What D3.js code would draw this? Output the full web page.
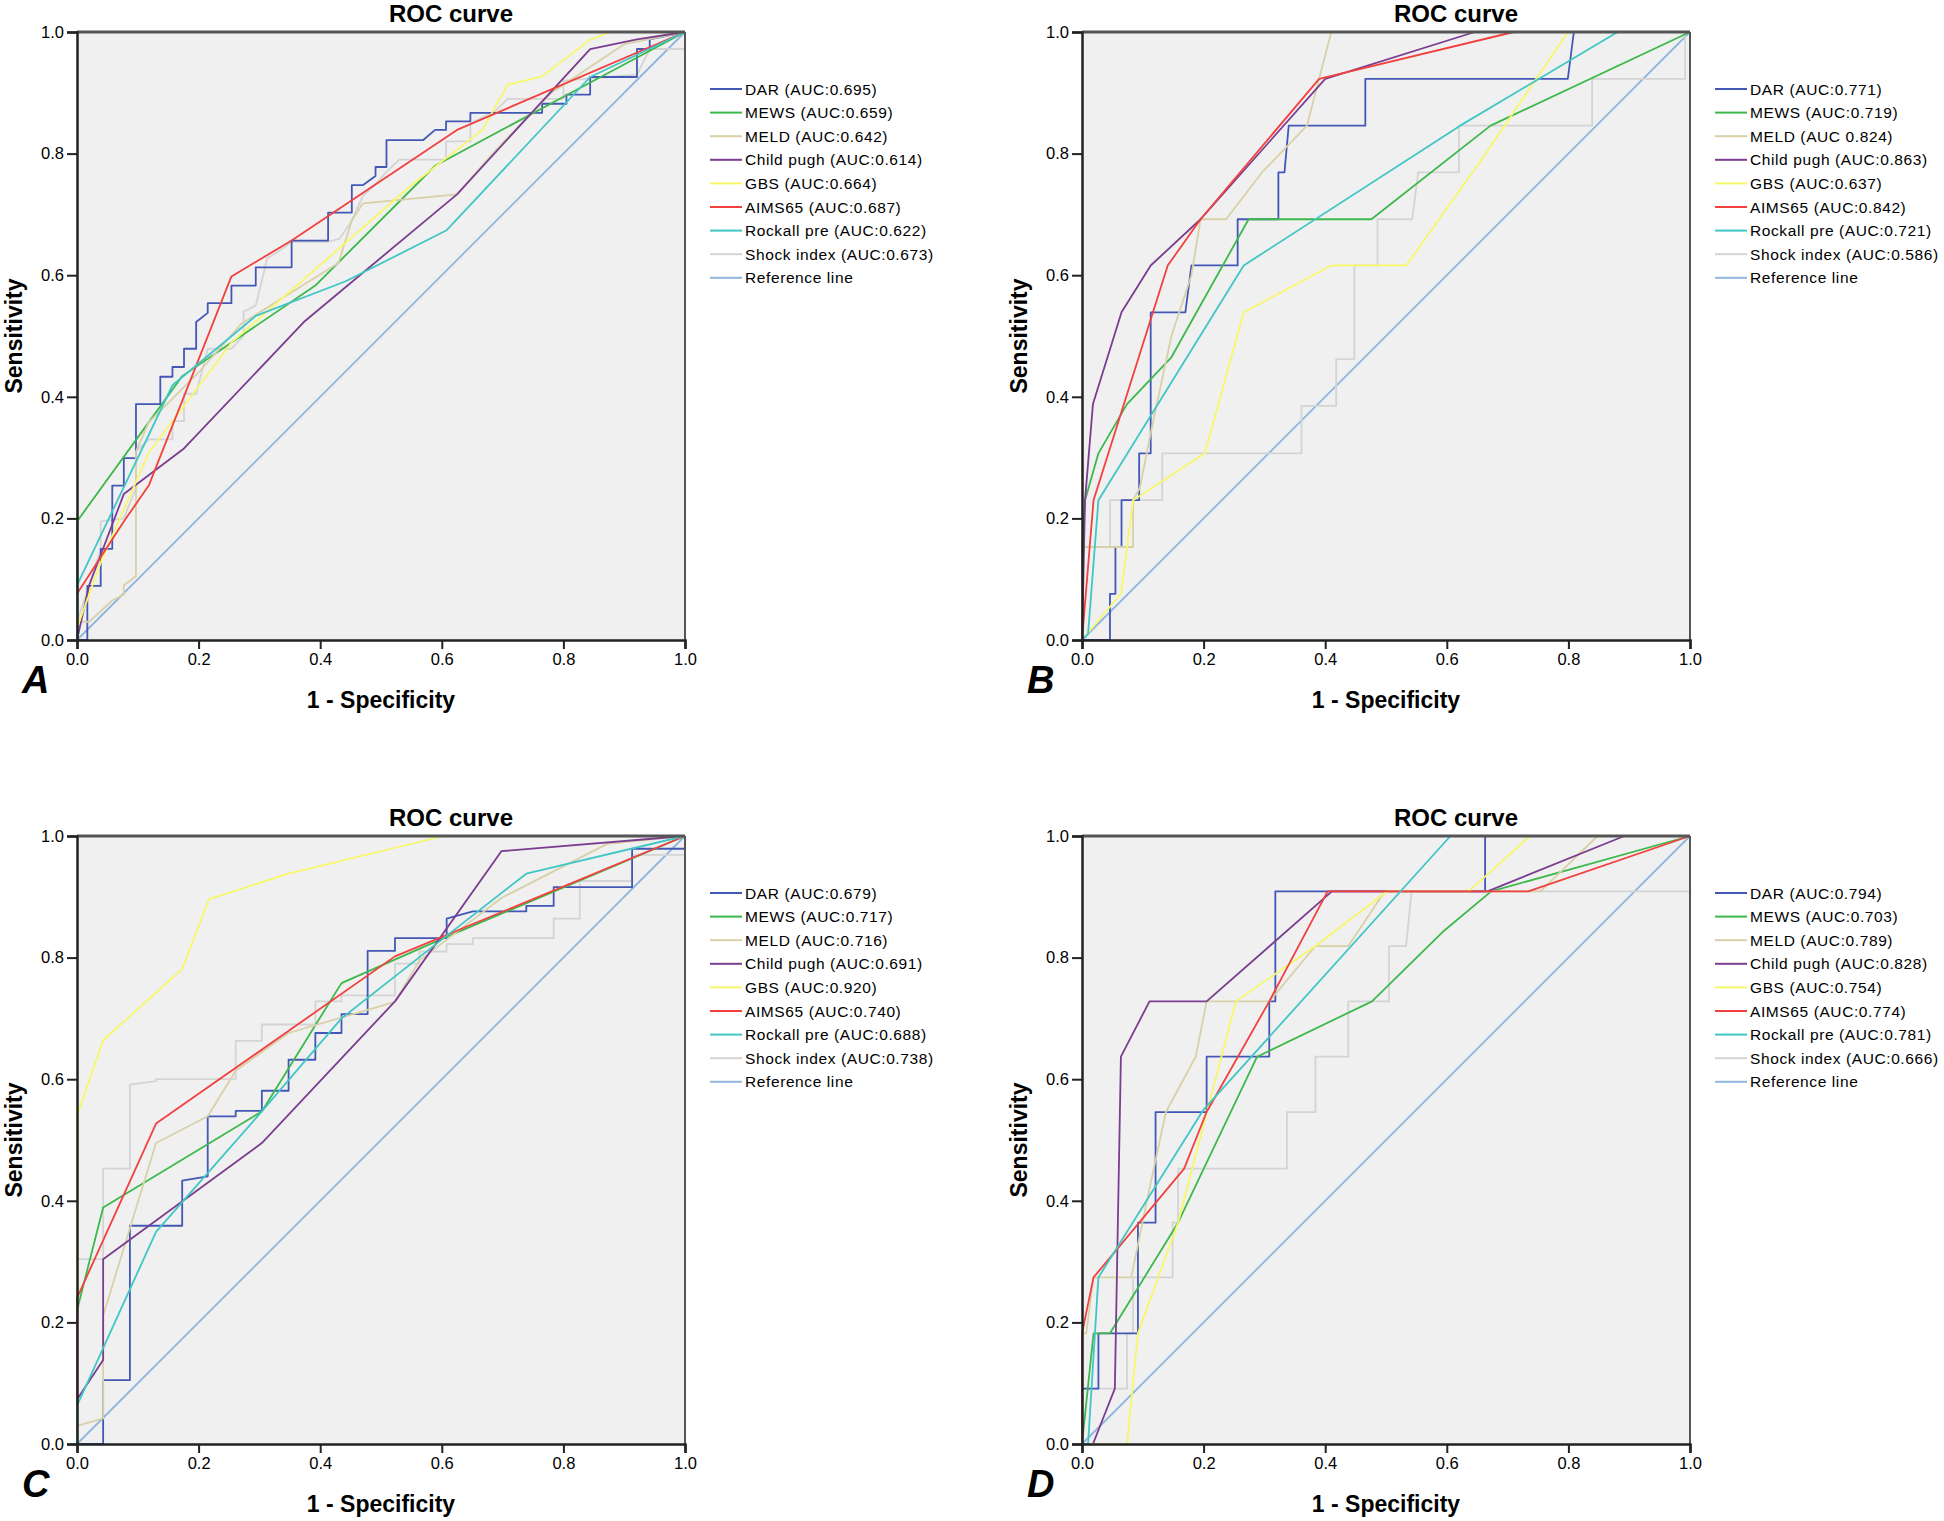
<!DOCTYPE html>
<html>
<head>
<meta charset="utf-8">
<script src="https://d3js.org/d3.v7.min.js"></script>
<style>
  body { margin: 0; background: #fff; }
  text { font-family: Arial, "Liberation Sans", sans-serif; fill: #000; }
</style>
</head>
<body>
<div id="chart"></div>
<script>
// Series names and colours (same order in every panel)
const seriesNames = ['DAR', 'MEWS', 'MELD', 'Child pugh', 'GBS', 'AIMS65', 'Rockall pre', 'Shock index'];
const seriesColors = ['#4358b6', '#3db84b', '#d8d1a8', '#7b3d8f', '#f7f76a', '#f2403f', '#41c6c6', '#d4d4d4'];
const refColor = '#90b6de';

// AUC values read from the legends
const aucA = [0.695, 0.659, 0.642, 0.614, 0.664, 0.687, 0.622, 0.673];
const aucB = [0.771, 0.719, 0.824, 0.863, 0.637, 0.842, 0.721, 0.586];
const aucC = [0.679, 0.717, 0.716, 0.691, 0.920, 0.740, 0.688, 0.738];
const aucD = [0.794, 0.703, 0.789, 0.828, 0.754, 0.774, 0.781, 0.666];

const ticks = [0, 0.2, 0.4, 0.6, 0.8, 1.0];

// ROC points [1 - specificity, sensitivity], panel A
const rocA_dar = [[0,0],[0.017,0],[0.017,0.089],[0.039,0.089],[0.039,0.15],[0.058,0.15],[0.058,0.254],[0.077,0.254],[0.077,0.299],[0.097,0.299],[0.097,0.388],[0.137,0.388],[0.137,0.433],[0.157,0.433],[0.157,0.449],[0.176,0.449],[0.176,0.479],[0.196,0.479],[0.196,0.523],[0.215,0.538],[0.215,0.554],[0.254,0.554],[0.254,0.583],[0.294,0.583],[0.294,0.613],[0.353,0.613],[0.353,0.657],[0.413,0.657],[0.413,0.703],[0.452,0.703],[0.452,0.748],[0.470,0.748],[0.491,0.763],[0.491,0.778],[0.509,0.778],[0.509,0.822],[0.569,0.822],[0.589,0.839],[0.607,0.839],[0.607,0.853],[0.647,0.853],[0.647,0.867],[0.765,0.867],[0.765,0.882],[0.805,0.882],[0.805,0.897],[0.844,0.897],[0.844,0.926],[0.921,0.926],[0.921,0.972],[0.942,0.972],[0.942,0.988],[1,1]];
const rocA_mews = [[0,0],[0,0.195],[0.173,0.434],[0.392,0.583],[0.589,0.780],[0.805,0.896],[1,1]];
const rocA_meld = [[0,0],[0,0.03],[0.02,0.03],[0.058,0.065],[0.077,0.075],[0.077,0.09],[0.097,0.105],[0.097,0.31],[0.118,0.358],[0.16,0.40],[0.2,0.44],[0.27,0.52],[0.43,0.62],[0.452,0.69],[0.47,0.718],[0.625,0.733],[0.688,0.805],[0.78,0.90],[0.90,0.98],[1,1]];
const rocA_child = [[0,0],[0.02,0.09],[0.077,0.24],[0.176,0.315],[0.373,0.523],[0.625,0.733],[0.844,0.972],[0.921,0.988],[1,1]];
const rocA_gbs = [[0,0],[0,0.02],[0.04,0.13],[0.118,0.308],[0.254,0.489],[0.55,0.748],[0.667,0.839],[0.708,0.913],[0.765,0.927],[0.844,0.987],[0.876,1],[1,1]];
const rocA_aims = [[0,0],[0,0.076],[0.077,0.195],[0.118,0.254],[0.254,0.598],[0.353,0.657],[0.625,0.839],[0.765,0.899],[1,1]];
const rocA_rock = [[0,0],[0,0.09],[0.157,0.419],[0.294,0.533],[0.442,0.59],[0.608,0.674],[0.844,0.926],[1,1]];
const rocA_shock = [[0,0],[0,0.03],[0.02,0.09],[0.039,0.15],[0.039,0.195],[0.077,0.2],[0.097,0.25],[0.097,0.31],[0.118,0.33],[0.157,0.33],[0.157,0.36],[0.176,0.36],[0.176,0.405],[0.196,0.405],[0.215,0.479],[0.254,0.479],[0.274,0.50],[0.274,0.54],[0.294,0.55],[0.313,0.628],[0.333,0.64],[0.353,0.655],[0.413,0.655],[0.432,0.66],[0.452,0.69],[0.47,0.73],[0.491,0.75],[0.509,0.77],[0.53,0.79],[0.607,0.79],[0.607,0.82],[0.647,0.82],[0.647,0.85],[0.688,0.87],[0.708,0.89],[0.80,0.89],[0.80,0.92],[0.921,0.93],[0.942,0.972],[1,0.972],[1,1]];

// panel B
const rocB_dar = [[0,0],[0.046,0],[0.046,0.076],[0.055,0.076],[0.055,0.153],[0.065,0.153],[0.065,0.23],[0.094,0.23],[0.094,0.307],[0.113,0.307],[0.113,0.539],[0.17,0.539],[0.18,0.616],[0.256,0.616],[0.256,0.692],[0.323,0.692],[0.323,0.769],[0.333,0.769],[0.340,0.846],[0.466,0.846],[0.466,0.923],[0.799,0.923],[0.809,1],[1,1]];
const rocB_mews = [[0,0],[0,0.15],[0.005,0.23],[0.027,0.307],[0.074,0.388],[0.147,0.465],[0.274,0.692],[0.476,0.692],[0.672,0.846],[1,1]];
const rocB_meld = [[0,0],[0,0.153],[0.084,0.153],[0.084,0.23],[0.095,0.25],[0.115,0.35],[0.147,0.5],[0.18,0.6],[0.195,0.692],[0.237,0.692],[0.296,0.769],[0.37,0.846],[0.39,0.923],[0.41,1],[1,1]];
const rocB_child = [[0,0],[0.005,0.23],[0.018,0.388],[0.065,0.539],[0.113,0.616],[0.195,0.692],[0.40,0.923],[0.646,1],[1,1]];
const rocB_gbs = [[0,0],[0.064,0.076],[0.084,0.23],[0.202,0.307],[0.266,0.539],[0.41,0.616],[0.533,0.616],[0.662,0.797],[0.799,1],[1,1]];
const rocB_aims = [[0,0],[0.019,0.23],[0.141,0.616],[0.195,0.692],[0.39,0.923],[0.71,1],[1,1]];
const rocB_rock = [[0,0],[0.01,0.01],[0.027,0.23],[0.266,0.616],[0.622,0.846],[0.881,1],[1,1]];
const rocB_shock = [[0,0],[0,0.153],[0.046,0.153],[0.046,0.23],[0.132,0.23],[0.132,0.307],[0.361,0.307],[0.361,0.385],[0.418,0.385],[0.418,0.462],[0.448,0.462],[0.448,0.616],[0.486,0.616],[0.486,0.692],[0.543,0.692],[0.553,0.769],[0.62,0.769],[0.62,0.846],[0.839,0.846],[0.839,0.923],[0.992,0.923],[0.992,1],[1,1]];

// panel C
const rocC_dar = [[0,0],[0.043,0],[0.043,0.105],[0.087,0.105],[0.087,0.359],[0.173,0.359],[0.173,0.433],[0.215,0.44],[0.215,0.539],[0.261,0.539],[0.261,0.548],[0.304,0.548],[0.304,0.581],[0.348,0.581],[0.348,0.632],[0.392,0.632],[0.392,0.676],[0.435,0.676],[0.435,0.707],[0.478,0.707],[0.478,0.811],[0.523,0.811],[0.523,0.832],[0.608,0.832],[0.608,0.864],[0.651,0.876],[0.739,0.876],[0.739,0.885],[0.784,0.885],[0.784,0.916],[0.913,0.916],[0.913,0.979],[1,0.979],[1,1]];
const rocC_mews = [[0,0],[0,0.22],[0.043,0.389],[0.304,0.547],[0.435,0.758],[0.603,0.832],[1,1]];
const rocC_meld = [[0,0],[0,0.03],[0.043,0.042],[0.043,0.211],[0.13,0.495],[0.215,0.539],[0.261,0.614],[0.348,0.676],[0.523,0.727],[0.563,0.795],[0.698,0.898],[0.872,0.987],[1,1]];
const rocC_child = [[0,0],[0,0.073],[0.043,0.138],[0.043,0.304],[0.304,0.495],[0.523,0.728],[0.698,0.975],[1,1]];
const rocC_gbs = [[0,0],[0,0.54],[0.043,0.664],[0.173,0.781],[0.217,0.896],[0.348,0.938],[0.603,1],[1,1]];
const rocC_aims = [[0,0],[0,0.24],[0.13,0.527],[0.523,0.802],[1,1]];
const rocC_rock = [[0,0],[0,0.063],[0.13,0.349],[0.304,0.547],[0.435,0.70],[0.603,0.832],[0.739,0.938],[1,1]];
const rocC_shock = [[0,0],[0,0.304],[0.043,0.304],[0.043,0.453],[0.087,0.453],[0.087,0.591],[0.13,0.597],[0.13,0.6],[0.261,0.6],[0.261,0.663],[0.304,0.663],[0.304,0.69],[0.392,0.69],[0.392,0.728],[0.435,0.728],[0.435,0.738],[0.523,0.738],[0.523,0.79],[0.563,0.79],[0.563,0.81],[0.608,0.81],[0.608,0.822],[0.651,0.822],[0.651,0.832],[0.784,0.832],[0.784,0.864],[0.827,0.864],[0.827,0.926],[0.913,0.926],[0.913,0.969],[1,0.969],[1,1]];

// panel D
const rocD_dar = [[0,0],[0,0.091],[0.027,0.091],[0.027,0.182],[0.092,0.182],[0.092,0.364],[0.121,0.364],[0.121,0.546],[0.205,0.546],[0.205,0.637],[0.308,0.637],[0.308,0.728],[0.318,0.728],[0.318,0.909],[0.663,0.909],[0.663,1],[1,1]];
const rocD_mews = [[0,0],[0.019,0.182],[0.046,0.182],[0.158,0.364],[0.288,0.637],[0.477,0.728],[0.593,0.842],[0.673,0.909],[1,1]];
const rocD_meld = [[0,0],[0,0.182],[0.007,0.182],[0.019,0.274],[0.081,0.274],[0.108,0.406],[0.138,0.546],[0.187,0.637],[0.205,0.728],[0.308,0.728],[0.384,0.819],[0.438,0.819],[0.498,0.909],[0.754,0.909],[0.848,1],[1,1]];
const rocD_child = [[0,0],[0.018,0],[0.054,0.091],[0.064,0.637],[0.111,0.728],[0.205,0.728],[0.411,0.909],[0.667,0.909],[0.892,1],[1,1]];
const rocD_gbs = [[0,0],[0.074,0],[0.092,0.182],[0.158,0.364],[0.253,0.728],[0.384,0.819],[0.502,0.909],[0.636,0.909],[0.737,1],[1,1]];
const rocD_aims = [[0,0],[0,0.182],[0.019,0.274],[0.168,0.453],[0.205,0.546],[0.308,0.728],[0.404,0.909],[0.734,0.909],[1,1]];
const rocD_rock = [[0,0],[0.01,0],[0.027,0.274],[0.2,0.55],[0.606,1],[1,1]];
const rocD_shock = [[0,0],[0,0.091],[0.074,0.091],[0.074,0.182],[0.084,0.182],[0.084,0.274],[0.149,0.274],[0.149,0.364],[0.158,0.364],[0.158,0.453],[0.337,0.453],[0.337,0.546],[0.384,0.546],[0.384,0.637],[0.438,0.637],[0.438,0.728],[0.505,0.728],[0.505,0.819],[0.533,0.819],[0.542,0.909],[1,0.909],[1,1]];

// Panel setup: position of the plot square and which arrays go in it
const size = 608;
const panels = [
  {letter: 'A', x0: 77,   y0: 32,  auc: aucA, curves: [rocA_dar, rocA_mews, rocA_meld, rocA_child, rocA_gbs, rocA_aims, rocA_rock, rocA_shock]},
  {letter: 'B', x0: 1082, y0: 32,  auc: aucB, curves: [rocB_dar, rocB_mews, rocB_meld, rocB_child, rocB_gbs, rocB_aims, rocB_rock, rocB_shock]},
  {letter: 'C', x0: 77,   y0: 836, auc: aucC, curves: [rocC_dar, rocC_mews, rocC_meld, rocC_child, rocC_gbs, rocC_aims, rocC_rock, rocC_shock]},
  {letter: 'D', x0: 1082, y0: 836, auc: aucD, curves: [rocD_dar, rocD_mews, rocD_meld, rocD_child, rocD_gbs, rocD_aims, rocD_rock, rocD_shock]}
];

const svg = d3.select('#chart').append('svg')
  .attr('width', 1944)
  .attr('height', 1521)
  .style('background', '#fff');

const x = d3.scaleLinear().domain([0, 1]).range([0, size]);
const y = d3.scaleLinear().domain([0, 1]).range([size, 0]);
const line = d3.line().x(d => x(d[0])).y(d => y(d[1]));

panels.forEach(p => {
  const g = svg.append('g').attr('transform', 'translate(' + p.x0 + ',' + p.y0 + ')');

  // grey plot background
  g.append('rect')
    .attr('width', size).attr('height', size)
    .attr('fill', '#f0f0f0');

  // reference diagonal
  g.append('path')
    .datum([[0, 0], [1, 1]])
    .attr('d', line)
    .attr('fill', 'none')
    .attr('stroke', refColor)
    .attr('stroke-width', 1.8);

  // the eight ROC curves, shock index drawn first so the others sit on top of it
  const order = [7, 0, 1, 2, 3, 4, 5, 6];
  order.forEach(i => {
    g.append('path')
      .datum(p.curves[i])
      .attr('d', line)
      .attr('fill', 'none')
      .attr('stroke', seriesColors[i])
      .attr('stroke-width', 1.8)
      .attr('stroke-linejoin', 'round');
  });

  // frame: top and right edges
  g.append('line').attr('x1', 0).attr('x2', size).attr('y1', 0).attr('y2', 0)
    .attr('stroke', '#555').attr('stroke-width', 3);
  g.append('line').attr('x1', size).attr('x2', size).attr('y1', 0).attr('y2', size)
    .attr('stroke', '#555').attr('stroke-width', 2);

  // axes
  const xAxis = g.append('g')
    .attr('class', 'axis')
    .attr('transform', 'translate(0,' + size + ')')
    .call(d3.axisBottom(x).tickValues(ticks).tickFormat(d3.format('.1f')).tickSize(9).tickPadding(4));
  const yAxis = g.append('g')
    .attr('class', 'axis')
    .call(d3.axisLeft(y).tickValues(ticks).tickFormat(d3.format('.1f')).tickSize(10).tickPadding(3));
  [xAxis, yAxis].forEach(a => {
    a.select('.domain').attr('stroke', '#222').attr('stroke-width', 2.5);
    a.selectAll('.tick line').attr('stroke', '#222').attr('stroke-width', 2);
    a.selectAll('.tick text').style('font-size', '16.5px').attr('fill', '#222');
  });

  // title and axis labels
  g.append('text')
    .attr('x', 374).attr('y', -10)
    .attr('text-anchor', 'middle')
    .style('font-size', '24px').style('font-weight', 'bold')
    .text('ROC curve');
  g.append('text')
    .attr('x', size / 2).attr('y', size + 68)
    .attr('text-anchor', 'middle')
    .style('font-size', '23px').style('font-weight', 'bold')
    .text('1 - Specificity');
  g.append('text')
    .attr('transform', 'translate(' + (-55) + ',' + (size / 2) + ') rotate(-90)')
    .attr('text-anchor', 'middle')
    .style('font-size', '23px').style('font-weight', 'bold')
    .text('Sensitivity');

  // panel letter
  g.append('text')
    .attr('x', -55).attr('y', size + 53)
    .style('font-size', '38px').style('font-weight', 'bold').style('font-style', 'italic')
    .text(p.letter);

  // legend
  const labels = seriesNames.map((n, i) => {
    const sep = (p.letter === 'B' && n === 'MELD') ? ' ' : ':';
    return n + ' (AUC' + sep + p.auc[i].toFixed(3) + ')';
  }).concat(['Reference line']);
  const colors = seriesColors.concat([refColor]);
  const leg = g.append('g').attr('transform', 'translate(' + (size + 25) + ',57)');
  labels.forEach((t, i) => {
    leg.append('line')
      .attr('x1', 0).attr('x2', 32)
      .attr('y1', i * 23.6).attr('y2', i * 23.6)
      .attr('stroke', colors[i]).attr('stroke-width', 2);
    leg.append('text')
      .attr('x', 35).attr('y', i * 23.6 + 5.5)
      .style('font-size', '15.5px').style('letter-spacing', '0.6px')
      .text(t);
  });
});
</script>
</body>
</html>
